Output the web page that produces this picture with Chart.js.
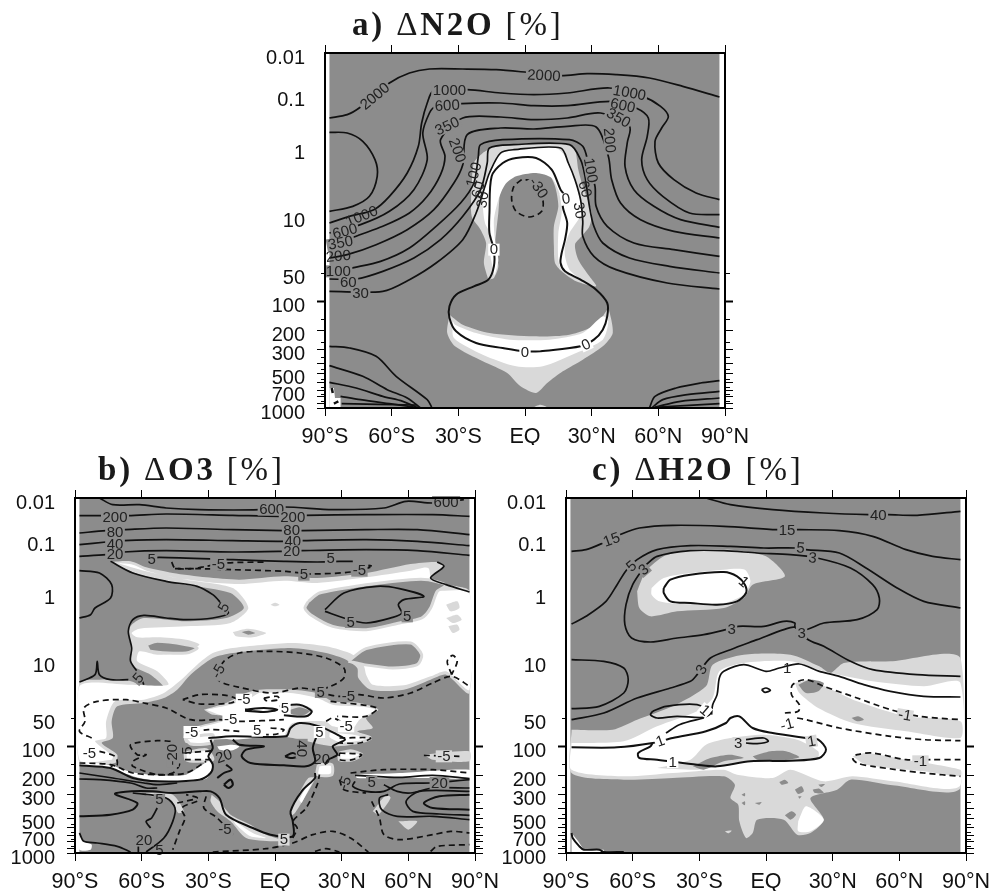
<!DOCTYPE html>
<html><head><meta charset="utf-8">
<style>html,body{margin:0;padding:0;background:#fff}canvas{position:absolute;display:block}</style>
<script src="https://cdn.jsdelivr.net/npm/chart.js@4/dist/chart.umd.min.js"></script>
</head><body>
<canvas id="pa" width="510" height="445" style="left:250px;top:0"></canvas>
<canvas id="pb" width="510" height="446" style="left:0;top:445px"></canvas>
<canvas id="pc" width="501" height="446" style="left:491px;top:445px"></canvas>
<script>
// Axis content. Pressure axis is a hybrid one, so marks are stored on a level coordinate (0 = top, 1065 = 1000 hPa).
const latTicks=[-90,-60,-30,0,30,60,90];
const latLabels=['90°S','60°S','30°S','EQ','30°N','60°N','90°N'];
const presLevels=[0,128,285,490,660,745,833,890,930,960,989,1012,1031,1052,1065];
const presLabels=['0.01','0.1','1','10','50','100','200','300','','500','','700','','','1000'];
const minorLevels=[660,797,866,911,947,977,1001,1022,1043];
const backdrop=[-88,0,87.5,0,87.5,1065,-88,1065];

// ---------- panel a : N2O ----------
const a2000=[-88,195,-80,185,-74,162,-61,90,-52,60,-43,48,-28,48,-13,50,1,58,16,68,28,62,41,65,56,75,71,100,87.5,132];
const aLoop=[-88,238,-80,240,-73,265,-67.5,320,-66.5,370,-70,430,-77.5,460,-88,475];
const a1000=[-88,510,-79,490,-68,470,-61,430,-53,360,-48,280,-46.5,210,-44,150,-41,112,-26,110,-11,120,4,125,19,120,38,105,53,130,61,160,64.5,190,61.5,225,58.5,265,60,330,67,380,77,420,87.5,440];
const a600=[-88,540,-74,515,-61,475,-50,410,-44,320,-46,240,-43,180,-40.5,162,-28.5,152,-11,150,4,158,19,158,39,145,50,165,55.5,195,55,250,52.5,320,55,380,62,430,74,480,87.5,485];
const a350=[-88,585,-77,552,-64,520,-52,480,-44,430,-38,365,-36,310,-38,260,-28,195,-11,192,4,200,19,195,34,180,47,220,46,270,45,340,49,410,58,460,70,500,87.5,523];
const a200=[-88,615,-80,605,-67,575,-53,530,-41,470,-32,390,-28,335,-26,245,-11,225,4,228,19,220,32,222,37.5,310,39,380,43,450,52,500,67,535,87.5,555];
const a100=[-88,665,-80,648,-65,625,-52,585,-40,520,-29,450,-23,390,-21,310,-20,275,-10,260,20,260,26,280,28.5,330,31.5,400,32,460,37,520,49,570,67,590,87.5,610];
const a60=[-88,678,-76,678,-64,655,-50,615,-38,560,-28,490,-20,410,-17,330,-16,285,-5,275,20,275,25,320,27,370,29,460,31,520,35,570,47,615,65,640,87.5,660];
const a30=[-88,715,-64,715,-52,680,-40,630,-28,560,-22,480,-18,400,-16,360,-11,300,-5,290,16,285,19.5,330,22.5,380,25,440,26,505,26,550,31,610,41,650,64,690,87.5,708];
const a0=[7,895,25,880,31,860,35,830,37,790,37,750,32,710,25,680,18,655,16,630,16.5,600,18,560,19,510,17,460,18,430,16,410,12,350,5,315,-4,315,-10,330,-15,370,-16,480,-16,540,-14,590,-14,640,-16.5,680,-23,700,-31,725,-34,760,-34,795,-31,835,-22,870,-10,885,0,895,7,895];
const aMinus30=[-1.5,380,-5,400,-6,440,-4,475,2,492,7.5,475,8,440,4,385,-1.5,380];
const aBL1=[-88,880,-79,885,-67,910,-58,970,-44,1040,-42,1062];
const aBL2=[-88,938,-73,970,-62,1010,-53,1035,-47,1065];
const aBL3=[-88,988,-76,1005,-64,1030,-55,1045,-48,1065];
const aBL4=[-83,1030,-74,1040,-61,1052,-50,1062];
const aBL5=[-82.5,1052,-49,1056];
const aBR1=[56,1065,58.5,1030,68,1005,79,990,87.5,983];
const aBR2=[57,1065,62,1040,73,1025,87.5,1015];
const aBR3=[58.5,1062,70,1045,87.5,1035];
const aBR4=[60,1062,87.5,1052];
const aScrib1=[-87,1005,-86.5,1020];
const aScrib2=[-86,1052,-84,1045];
const aLight1=[-16.5,680,-18.5,630,-17.5,570,-20,530,-24,490,-24,400,-23,330,-19,300,-15,285,-7,275,19,272,22.5,290,24,350,26,400,30,480,29,520,25.5,550,22.5,575,24,620,29,670,32,700,23,685,16.5,655,13.5,630,13,580,13,520,15,460,13.5,400,10,355,4,345,-5,360,-10.5,395,-12,480,-13,540,-13.5,580,-12,640,-14,675];
const aWhite1=[-13.5,670,-15.5,610,-15,550,-18,510,-19,440,-16.5,360,-12,310,-7,290,14,285,20,330,24,420,25.5,480,20,540,18,580,18,610,20,650,25,680,16.5,650,15,620,15,540,16.5,480,16,430,12,375,5,360,-4,370,-9,395,-12,440,-14,500,-13.5,560,-12,620,-13.5,665];
const aLight2=[-34,785,-35,840,-31.5,880,-19,925,-8,960,-2,1000,5,1020,10,990,17,955,26,920,35,880,39.5,840,37.5,765,36.5,775,32,815,20,845,4,850,-16,840,-28,815];
const aWhite2=[-32.5,805,-32,855,-19,905,-4,940,8,940,23,900,35,860,37.5,805,35,790,26,840,11,860,-7,860,-22,840,-31.5,815];
const aLight3=[3,1065,7,1055,10.5,1065];
const aCorner=[-88,1005,-86,1005,-85.5,1035,-83,1035,-83,1062,-88,1062];
const aTexts=[['2000',-67.5,130,-40],['2000',8.5,68,3],['1000',-34,112,0],['600',-35,158,-3],['350',-35,220,-25],['200',-30.5,292,70],['1000',47,120,10],['600',44,158,12],['350',42,195,30],['200',38,262,85],['100',29.5,352,80],['60',27,408,75,'n'],['30',24.5,472,80,'n'],['0',18.5,438,-10,'w'],['0',-14,590,0,'w'],['0',0,898,0,'w'],['0',27.5,875,-25,'w'],['-30',6,405,55],['1000',-73.5,490,-22,'n'],['600',-81,535,-15],['350',-83,570,-10],['200',-84,610,-5,'n'],['100',-84,655,0],['60',-79.5,688,0],['30',-74,722,0],['100',-23,365,-75,'n'],['60',-21,410,-75,'n'],['30',-19,440,-80,'n']];

// ---------- panel b : O3 ----------
const bLight1=[-74,192,-65,190,-58,208,-46,225,-31,238,-16,245,4,235,19,240,41,225,61,198,73,192,76,205,70,240,78,260,87.5,280,87.5,585,77,530,70,545,58,575,43,575,37.5,540,37,510,32,485,23,465,7,450,-19,465,-28,480,-38,530,-44,575,-50,600,-59,615,-71,625,-73.5,670,-73,720,-78,735,-71,770,-72,795,-88,795,-88,555,-79,545,-66,548,-59,562,-50,568,-56,530,-64.5,500,-65,440,-66,405,-64.5,380,-59,360,-40,370,-22,360,-14,330,-20,285,-40,260,-61,230];
const bWhite1=[-71,195,-64,200,-57,220,-46,238,-31,252,-16,258,4,248,19,255,41,238,61,218,69,210,71,275,87.5,285,87.5,575,77,520,70,535,58,562,44,560,41,530,40,505,35,470,23,445,7,435,-19,450,-28,465,-35,500,-43,550,-50,585,-59,605,-72,610,-76,670,-76,720,-81,730,-73,775,-73.5,785,-88,785,-88,565,-66,560,-48,560,-53,520,-62,490,-61,460,-53,470,-44,465,-34,440,-40,425,-53,418,-62,418,-64.5,405,-61,392,-40,385,-20,375,-12,330,-19,270,-40,245,-59,218];
const bGreyA=[-58,440,-53,430,-40,440,-35,450,-40,465,-56,460];
const bGreyR=[15,310,20,285,41,260,61,245,69,245,77,262,73,280,70,330,66,360,56,375,41,395,26,385,16,350,13.5,330];
const bGreyB=[33,490,41,452,61,435,66,470,64,500,53,510,40,500];
const bLightC=[-19,402,-12,392,-4,405,-10,418,-17.5,415];
const bGreyC=[-15,402,-12,398,-9,405,-12,410];
const bLightD=[-2,320,0,314,2,320,0,325];
const bLightP1=[77,320,82,310,83,330,79,340];
const bLightP2=[77,360,82,350,84,365,80,375];
const bLightP3=[78,385,82,380,83,395,80,405];
const bLight2=[-32,635,-22,615,-13,585,-7,575,8,575,19,585,26,610,38,615,46.5,635,41,660,44,690,37,700,43,720,38,735,26,745,8,720,-1,710,-11,720,-28,725,-40,735,-41,715,-37,690,-26,670,-19,655,-28,650];
const bWhite2=[-31,635,-20,620,-11,600,-7,585,7,585,19,600,26,620,37,625,45,635,38,665,35,690,26,685,22.5,670,8,675,5,702,4,715,-10,720,-19,725,-28,718,-38,730,-40.5,720,-37,695,-26,675,-19,660,-25,650];
const bGreyE=[5,635,11,623,16.5,638,13.5,655,7,652];
const bWhiteR1=[24,700,35,705,43,720,38,733,29,737,24,720];
const bWhiteR2=[29,765,34,758,39,770,35,785,29,785];
const bWhiteR3=[-40.5,765,-31,755,-28,785,-35,790,-40,785];
const bWhiteR4=[-26,745,-19.5,740,-16,745,-19,757,-25,755];
const bWhiteR5=[-40.5,720,-28,710,-29,735,-38,738];
const bWhiteBand=[-88,802,-74,812,-61,840,-46,852,-31,842,-28,800,-30,790,-40,830,-53,832,-65,822,-74,802,-88,792];
const bLightDiagR=[7,955,9,945,15,880,18,840,15,840,10.5,890,7.5,930];
const bWhiteDiagR=[12,915,17,850,16,850,11,905];
const bWhitePatch=[19.5,800,25.5,800,25.5,830,19,830];
const bLightDiagL=[-28.5,890,-25,910,-20,950,-11,980,-4,1010,5,1030,-1,1030,-13,1020,-20,970,-26,940,-29,910];
const bWhiteDiagL=[-19,965,-10,1005,-4,1020,-11,1015,-17.5,980];
const bLightS=[-58,885,-46,890,-41,940,-43.5,945,-47,905,-58,892];
const bLightT=[55.5,970,64,970,60,995];
const bLightU=[44,940,50,890,52,900,46.5,950];
const bCorner=[-88,1005,-86,1030,-82.5,1040,-83,1055,-88,1055];
const bWhiteRt=[36,830,56,825,87.5,815,87.5,840,71,840,56,840,37,840];
const bLightRt=[67,770,87.5,760,87.5,790,71,785];

const b600=[-79,0,-73,20,-61,20,-49,30,-34,35,-7,35,4,27,26,35,49,30,59,10,71,15,85,5];
const b200=[-88,53,-79,53,-66,53,-49,48,-19,52,2,55,13.5,52,41,50,71,50,87.5,55];
const b80=[-88,105,-76,98,-68,95,-49,90,-19,95,4,98,12,98,41,95,64,95,87.5,110];
const b40=[-88,140,-76,132,-68,128,-49,125,-19,128,4,130,12,128,41,125,64,130,87.5,143];
const b20=[-88,175,-76,170,-68,162,-49,158,-19,162,4,160,12,158,41,155,64,158,87.5,172];
const b5top=[-58,182,-52,178,-19,185,4,190,19,192,29,190,35,190];
const b5tip=[-74,190,-64,225,-49,250,-35,265,-28,290,-25,310,-21,345,-28,360,-40,365,-49,360,-59,352,-64,365,-66,400,-64.5,450,-65,490,-61,530,-59,560];
const b5left=[-88,218,-79,225,-73.5,260,-74,300,-81,330,-83,350,-88,360];
const b5vee=[-88,552,-81,530,-80,490,-79,530,-74,545,-66,545];
const b5rt=[73,192,76,205,70,240,77,260,87.5,282];
const b5loop=[22.5,335,31,285,46,265,56,272,67,295,58,305,55.5,320,57,345,53,358,41,375,31,360,22.5,340];
const bS1=[-13.5,635,-5,630,1,635,-5,642,-13.5,638];
const bS2=[2,625,11,620,16.5,640,14,655,4,652];
const bS3=[-30,720,-19,715,5,715,7,690,11,675,20,685,28,710,31.5,725,26,745,28,770,24,785,22.5,800];
const bS4=[-19,725,-16,740,-5,745,-13,755,-15,775,-11,795,4,802,14,805,18,790,17,750,19,710];
const bS5=[4.5,775,8,765,10.5,775,7,780,4.5,775];
const bS6=[-29,725,-28,750,-30,775,-28,800,-29,825,-34,845,-53,850,-64,840,-74,810,-88,802];
const bS7=[-88,825,-73,840,-59,855,-53,860,-44,855];
const bS8=[-22,800,-19.5,815,-23,825,-26,840];
const bS9=[-23,860,-20,845,-19,860,-21,870,-23,860];
const bLow1=[-88,843,-79,845,-65,855,-58,870,-53,870];
const bLow2=[-88,955,-74,950,-64,935,-62,915,-72,888,-64.5,880,-55,880,-46,885,-34,880,-29,880,-25,900,-22,950,-10,990,-2,1010,8,1015,8,970,7,940,12,880,18,840,18,825];
const bS10=[-64,885,-49,900,-45,930,-46,970,-50,1020,-58,1062];
const bS11=[-53,930,-55.5,960,-58,970,-56,990];
const bR2=[36,832,56,838,71,832,87.5,842];
const bR4=[36,850,35,865,41,880,49,880,56,858,70,855,79,850,87.5,845];
const bR5=[49,860,55,880,61,885,71,870,87.5,870];
const bR6=[87.5,890,74,895,67,915,71,930,87.5,935];
const bR7=[87.5,880,65,880,59,910,62,940,74,948,87.5,952];
const bR8=[87.5,965,71,955,55,955,48,935,47,900,51,890];
const bBot=[-88,1005,-86,1030,-80,1035,-71,1045,-65,1062];
const bS12=[-61.5,1045,-61.5,1065];

const bN1=[-46.5,192,-45,210,-37,212,-31,205,-22,195,-4,192];
const bN2=[-45,212,-34,212,-19,215,5,220,11,225,17,228,34,222,44,205,42,202];
const bCore=[-26,530,-23,490,-16,465,-4,460,11,465,23,480,31,510,31,540,25,565,19,575,11,570,-1,585,-16,568,-25,550,-26,530];
const bN3=[24,590,29,595,38,590,49,600,61,585,71,555,79.5,535,87.5,565];
const bLoopR=[79.5,530,77.5,490,80,472,82,490,79.5,530];
const bEll=[-41.5,605,-34,590,-22,592,-17,605,-20,615,-34,618,-41.5,605];
const bSm=[-5,600,1,595,2,605,-4,608,-5,600];
const bN4=[-82.5,720,-88,700,-85.5,670,-86,630,-80,610,-67,605,-59,615,-49,630,-38,665,-25,665,-16,670,4,665];
const bN5=[25,610,46,630,41,655,28,655];
const bN6=[23,670,26,660,31,675];
const bN8=[-41,710,-30,695,-16,700];
const bN9=[-2,690,4,695,1,708,-4,710];
const bN10=[29,720,43,720,38,735,29,735];
const bN11=[29,765,39,770,35,785,29,785,29,765];
const bN12=[-40.5,765,-28,758];
const bN12b=[-40.5,785,-28,785];
const bN13=[-88,795,-74,800,-64,825,-52,830,-40,825,-31,790];
const bN14=[-47,730,-53,728,-65,740,-62,770,-58,770,-64,790,-64,805,-53,830,-46,825,-43,800,-44,785];
const bN15=[-79,760,-72,775,-71,800,-74,805];
const bN16=[-35,910,-42,930,-40.5,960,-43,1000,-46,1055];
const bN17=[-44,915,-35,900,-40,890];
const bN18=[-28,1062,-4,1052,8,1035,17,1010,26,1000,34,1020,42,1062];
const bN19=[18,1060,23,1052,29,1062];
const bN20=[8,1020,10,990,8,970,14,930,19,860,20,830];
const bN21=[-31,895,-32,930,-26,960,-19,1010];
const bR1=[34,825,49,815,71,815,87.5,825];
const bR3=[29,845,31,875,41,885];
const bR9=[43.5,910,47,960,49,1010,56,1025,71,1010,79,1000,87.5,1005];
const bR10=[70,1060,73,1045,87.5,1040];
const bR11=[67,772,83,775];
const bTexts=[['600',-1.5,35,0],['600',77,12,0],['200',-72,58,0],['200',8,58,0],['80',-72,102,0],['80',7.5,98,0],['40',-72,138,0],['40',8,130,0],['20',-72,170,0],['20',7.5,160,0],['5',-55.5,185,0],['5',25,182,0],['-5',-25.5,198,0],['5',13,230,0],['-5',38,218,0],['5',-23,328,-60],['5',34,372,0],['5',59.5,355,0],['5',-61.5,540,-50],['-5',-25.5,520,-60],['5',20.5,582,0],['-5',33,595,0],['-5',-14,605,0,'w'],['5',4.5,630,0,'w'],['-5',-20,665,0,'w'],['-5',-37.5,702,0,'w'],['5',-8,698,0,'w'],['5',20,702,0,'w'],['-5',32,685,0,'w'],['40',12,752,90],['-20',-46,770,-90],['5',-39.5,758,-90,'n'],['20',-23,775,-20,'n'],['20',21,785,0,'n'],['-5',-83.5,765,0,'w'],['-5',76,775,0,'l'],['5',43.5,852,0],['20',74,855,0],['-5',31.5,855,-70,'n'],['5',-52,905,0],['-5',-22.5,995,0],['5',4,1025,0,'l'],['20',-59,1027,0],['5',-52,1058,0,'n']];

// ---------- panel c : H2O ----------
const cLight1=[-58,280,-54,220,-46,175,-34,155,-16,155,0,175,8.5,235,-6,260,-10,300,-19,330,-40,340,-52,355,-57,330];
const cWhite1=[-51.5,270,-46,240,-34,225,-19,215,-9.5,215,-7,250,-10,290,-19,315,-39,318,-48,310,-51.5,290];
const cLight2=[-87.5,695,-69,695,-58,665,-42,625,-27,565,-24,500,-10,470,11,470,24,505,29,525,35,495,56,490,87.5,480,87.5,870,57,862,38,845,32,875,20,900,26,965,20,1005,14,1010,8,965,-4,965,-6,1005,-9,1020,-12,970,-12.5,920,-16,900,-14,860,-19,835,-42,840,-64,845,-87.5,825];
const cWhite2=[-87.5,735,-64,730,-49,685,-31,640,-24,600,-21,520,-10,495,11,490,26,520,48,550,71,565,87.5,555,87.5,862,57,850,39,835,26,850,11,815,3,840,-13,830,-19,815,-42,825,-64,835,-87.5,815];
const cIsle1=[13,555,20,545,26.5,565,41,610,63,655,87.5,670,87.5,720,63,700,39,675,23.5,630,15,585];
const cIsle2=[39,775,45,765,63,785,87.5,815,87.5,835,71,820,45,800];
const cIsle3=[-49,810,-34,785,-27,740,-16,720,-1,710,14,725,23.5,760,23,785,11,790,-7,790,-22,805,-31,815];
const cGrey1=[-33,805,-25,780,-16,770,-10,780,-19,790,-28,815];
const cGrey2=[-6,775,2,760,9,760,15,778,6,788,-4,785];
const cGrey3=[14.5,560,20,545,26,555,23.5,580,18,585];
const cGrey4=[38.5,660,41.5,655,44,665,41,670];
const cDot1=[6,852,8.5,845,10,855,7,860];
const cDot2=[13,875,16,865,17,880,14.5,888];
const cDot3=[21,875,24,872,26,885,22,885];
const cDot4=[23.5,860,26.5,858,25,867];
const cDot5=[8.5,952,11.5,940,13.5,950,11,965];
const cDot6=[-5,915,-2,912,-3,920];
const cDot7=[-11,915,-9.5,910,-9.5,922];
const cDot8=[-11,890,-9.5,885,-9.5,895];
const cDot9=[14.5,895,16,895,15,902];
const cWhite3=[14.5,970,18,925,26,965,20,1000,14.5,1000];
const cLight3=[-18.5,1000,-15.5,998,-17,1006];
const cCorner=[-87.5,1005,-84.5,1030,-82,1055,-73,1055,-72.5,1065,-87.5,1065];
const c40=[-27,0,-16,20,3,35,26,45,46,50,55,50,68,52,87.5,40];
const c15=[-87.5,160,-81,155,-74,137,-65,108,-57,90,-42,82,-19,85,5,95,15,95,33,98,48,115,63,155,75,175,87.5,185];
const c5=[-87.5,378,-81,355,-72,310,-67,260,-63,218,-58,185,-49,155,-34,143,-16,145,-1,150,13,150,18,155,33,165,45,210,59,270,71,310,87.5,330];
const c3a=[-54,200,-60,260,-63,320,-63.5,380,-60.5,420,-52,432,-40,420,-28,410,-18,395,-12.5,385,-1,385,8,370,13,375,13,388,18,395,26,375,41,365,50,335,51,300,48,260,38,210,23,180,11,170,-4,165,-19,158,-34,158,-49,175,-54,200];
const c3lobe=[-87.5,632,-75,625,-64,585,-62,545,-64,510,-73,490,-87.5,485];
const c3b=[-87.5,665,-73,645,-58,600,-43,570,-34,550,-31,530,-25,480,-16,455,-4,425,8,395,13,388,19,425,26,445,38,490,48,515,68,530,87.5,535];
const c1a=[-46,270,-43,245,-34,230,-19,222,-13,235,-9.5,260,-9,285,-13,310,-22,320,-34,315,-43,310,-46,285,-46,270];
const c1b=[-24.5,650,-24,620,-22,590,-21,540,-19,520,-10,500,0,520,6,510,15,498,24,520,33,535,44,560,56,580,71,595,87.5,597];
const c1loop=[-51,640,-45,625,-31,620,-25,645,-28,658,-40,655,-49,660,-52,650,-51,640];
const c1c=[-87.5,748,-67,748,-51,735,-42,720,-27,700,-18,675,-16,660,-12,655,-6,690,3,705,18,720,23.5,725,27,755,24,780,11,788,-7,790,-22,805,-31,800,-49,785,-57,780,-57.5,765,-52,745,-51,735];
const c1d=[-45,705,-39,680,-28,660];
const c1dot=[-2,575,0,570,2,577,-0.5,583,-2,575];
const c3dot=[-9,725,-1,720,1,730,-4,737,-9,735];
const cBL=[-87.5,1005,-87,1020,-84,1045,-82,1055,-75,1055,-73,1062,-64,1062];
const cN1=[8.5,645,14.5,640,15,620,11.5,590,12,560,18,545,26,565,41,600,56,635,69,655,87.5,665];
const cN2=[14,660,18,665,33,690,56,715,71,725,87.5,728];
const cN3=[87.5,785,74,785,63,785,48,765,41,770,39,780,41,795,48,805,71,825,87.5,835];
const cTexts=[['40',50.5,53,0],['15',-69.5,125,-20],['15',9.5,98,0],['5',-60.5,205,-40],['3',-55,215,-40],['5',15.5,150,5],['3',21,180,5],['1',-10,252,40,'n'],['3',-15.5,395,0],['3',16,405,0],['3',-29,515,-60],['1',9.5,510,0,'n'],['1',-27.5,637,40,'w'],['1',-47.5,730,-20,'w'],['1',20.5,730,-10,'l'],['1',-42,792,0,'w'],['3',-12.5,735,0,'l'],['-1',9.5,680,-15,'w'],['-1',62.5,652,10,'l'],['-1',69.5,790,0,'l']];

const titleA=[['a) ','b'],['Δ','r'],['N2O','b'],[' [%]','r']];
const titleB=[['b) ','b'],['Δ','r'],['O3','b'],[' [%]','r']];
const titleC=[['c) ','b'],['Δ','r'],['H2O','b'],[' [%]','r']];

const GREY='#8c8c8c',LIGHT='#d9d9d9',WHITE='#ffffff',INK='#111111';
const pts=a=>{const o=[];for(let i=0;i<a.length;i+=2)o.push({x:a[i],y:a[i+1]});return o;};
function shape(a,color,ring,tension){const p=pts(a);p.push(p[0]);return{data:p,showLine:true,pointRadius:0,fill:'shape',backgroundColor:color,borderColor:ring||color,borderWidth:ring?3:0,tension:tension===undefined?0.25:tension};}
const line=(a,w)=>({data:pts(a),showLine:true,pointRadius:0,fill:false,borderColor:INK,borderWidth:w||1.7,tension:0.3});
const dash=a=>({data:pts(a),showLine:true,pointRadius:0,fill:false,borderColor:INK,borderWidth:1.7,borderDash:[6,4],tension:0.3});
const BG={g:GREY,l:LIGHT,w:WHITE};

function decor(texts,title,titleDx){return{id:'decor',
 afterDatasetsDraw(ch){const c=ch.ctx,xs=ch.scales.x,ys=ch.scales.y;c.save();
  c.font='15px "Liberation Sans"';c.textAlign='center';c.textBaseline='middle';
  for(const [t,lat,lev,rot,bg] of texts){const px=xs.getPixelForValue(lat),py=ys.getPixelForValue(lev);
   c.save();c.translate(px,py);c.rotate((rot||0)*Math.PI/180);
   const w=c.measureText(t).width+3;
   if(bg!=='n'){c.fillStyle=BG[bg||'g'];c.fillRect(-w/2,-6,w,12);}
   c.fillStyle='#222';c.fillText(t,0,0.5);c.restore();}
  c.restore();},
 afterDraw(ch){const c=ch.ctx,a=ch.chartArea,ys=ch.scales.y;c.save();
  c.strokeStyle='#000';c.lineWidth=1;
  for(const lev of minorLevels){const p=Math.round(ys.getPixelForValue(lev))+0.5;
   c.beginPath();c.moveTo(a.left-4,p);c.lineTo(a.left,p);c.moveTo(a.right,p);c.lineTo(a.right+5,p);c.stroke();}
  let x=a.left+titleDx;const y=a.top-18;c.fillStyle='#1a1a1a';c.textAlign='left';c.textBaseline='alphabetic';
  c.letterSpacing='2.8px';
  for(const [s,k] of title){c.font=(k==='b'?'bold ':'')+'33px "Liberation Serif"';c.fillText(s,x,y);x+=c.measureText(s).width;}
  c.restore();}
};}

function panel(id,datasets,texts,title,titleDx,rightW,botH){
 const n=datasets.length;datasets.forEach((d,i)=>{d.order=n-i;});
 const tickFont={family:'"Liberation Sans"',size:20};
 const yTicks=s=>{s.ticks=presLevels.map(v=>({value:v}));};
 const tickCol=c=>c.tick&&c.tick.value>=745?'#000':'rgba(0,0,0,0)';
 const tickW=c=>c.tick&&c.tick.value===745?2:1;
 const xTicks=s=>{s.ticks=latTicks.map(v=>({value:v}));};
 new Chart(document.getElementById(id),{type:'scatter',data:{datasets},plugins:[decor(texts,title,titleDx)],
  options:{responsive:false,animation:false,events:[],layout:{padding:0,autoPadding:false},
   plugins:{legend:{display:false},tooltip:{enabled:false},title:{display:false}},
   scales:{
    x:{type:'linear',min:-90,max:90,position:'bottom',afterBuildTicks:xTicks,afterFit:s=>{s.height=botH;s.paddingLeft=0;s.paddingRight=0;},
     border:{display:true,width:2,color:'#000',z:1},grid:{drawOnChartArea:false,drawTicks:true,tickLength:8,tickColor:'#000',tickWidth:1},
     ticks:{autoSkip:false,maxRotation:0,minRotation:0,padding:8,color:'#111',font:{family:tickFont.family,size:21.5},callback:v=>latLabels[latTicks.indexOf(v)]}},
    x2:{type:'linear',min:-90,max:90,position:'top',afterBuildTicks:xTicks,afterFit:s=>{s.height=53;s.paddingLeft=0;s.paddingRight=0;},
     border:{display:true,width:2,color:'#000',z:1},grid:{drawOnChartArea:false,drawTicks:true,tickLength:8,tickColor:'#000',tickWidth:1},ticks:{display:false,autoSkip:false}},
    y:{type:'linear',min:0,max:1065,reverse:true,position:'left',afterBuildTicks:yTicks,afterFit:s=>{s.width=75;s.paddingTop=0;s.paddingBottom=0;},
     border:{display:true,width:2,color:'#000',z:1},grid:{drawOnChartArea:false,drawTicks:true,tickLength:8,tickColor:tickCol,tickWidth:tickW},
     ticks:{autoSkip:false,padding:12,labelOffset:5,color:'#111',font:tickFont,callback:v=>presLabels[presLevels.indexOf(v)]}},
    y2:{type:'linear',min:0,max:1065,reverse:true,position:'right',afterBuildTicks:yTicks,afterFit:s=>{s.width=rightW;s.paddingTop=0;s.paddingBottom=0;},
     border:{display:true,width:2,color:'#000',z:1},grid:{drawOnChartArea:false,drawTicks:true,tickLength:8,tickColor:tickCol,tickWidth:tickW},ticks:{display:false,autoSkip:false}}
   }}});
}

panel('pa',[
 shape(backdrop,GREY,null,0),shape(aLight1,LIGHT),shape(aLight2,LIGHT),shape(aLight3,LIGHT),shape(aWhite1,WHITE),shape(aWhite2,WHITE),shape(aCorner,WHITE,null,0),
 line(a2000),line(aLoop),line(a1000),line(a600),line(a350),line(a200),line(a100),line(a60),line(a30),line(a0,2),dash(aMinus30),
 line(aBL1),line(aBL2),line(aBL3),line(aBL4),line(aBL5),line(aBR1),line(aBR2),line(aBR3),line(aBR4),line(aScrib1,2.5),line(aScrib2,2.5)
],aTexts,titleA,27,35,37);

panel('pb',[
 shape(backdrop,GREY,null,0),shape(bLight1,LIGHT),shape(bLight2,LIGHT),shape(bWhite1,WHITE),shape(bWhite2,WHITE),
 shape(bGreyA,GREY,LIGHT),shape(bGreyR,GREY,LIGHT),shape(bGreyB,GREY,LIGHT),shape(bLightC,LIGHT),shape(bGreyC,GREY),shape(bLightD,LIGHT),shape(bLightP1,LIGHT),shape(bLightP2,LIGHT),shape(bLightP3,LIGHT),shape(bGreyE,GREY,LIGHT),
 shape(bWhiteR1,WHITE,LIGHT),shape(bWhiteR2,WHITE,LIGHT),shape(bWhiteR3,WHITE,LIGHT),shape(bWhiteR4,WHITE),shape(bWhiteR5,WHITE,LIGHT),shape(bWhiteBand,WHITE),
 shape(bLightDiagR,LIGHT),shape(bWhiteDiagR,WHITE),shape(bWhitePatch,WHITE,LIGHT),shape(bLightDiagL,LIGHT),shape(bWhiteDiagL,WHITE),shape(bLightS,LIGHT),shape(bLightT,LIGHT),shape(bLightU,LIGHT),shape(bCorner,WHITE),shape(bWhiteRt,WHITE),shape(bLightRt,LIGHT),
 line(b600),line(b200),line(b80),line(b40),line(b20),line(b5top),line(b5tip),line(b5left),line(b5vee),line(b5rt),line(b5loop),line(bS1,2.2),line(bS2,2),line(bS3,2),line(bS4,2),line(bS5,2),line(bS6,2),line(bS7),line(bS8,2),line(bS9,2.2),line(bLow1),line(bLow2,2),line(bS10),line(bS11),line(bR2),line(bR4),line(bR5),line(bR6,2),line(bR7),line(bR8),line(bBot),line(bS12),
 dash(bN1),dash(bN2),dash(bCore),dash(bN3),dash(bLoopR),dash(bEll),dash(bSm),dash(bN4),dash(bN5),dash(bN6),dash(bN8),dash(bN9),dash(bN10),dash(bN11),dash(bN12),dash(bN12b),dash(bN13),dash(bN14),dash(bN15),dash(bN16),dash(bN17),dash(bN18),dash(bN19),dash(bN20),dash(bN21),dash(bR1),dash(bR3),dash(bR9),dash(bR10),dash(bR11)
],bTexts,titleB,23,35,38);

panel('pc',[
 shape(backdrop,GREY,null,0),shape(cLight1,LIGHT),shape(cWhite1,WHITE),shape(cLight2,LIGHT),shape(cWhite2,WHITE),shape(cIsle1,LIGHT),shape(cIsle2,LIGHT),shape(cIsle3,LIGHT),
 shape(cGrey1,GREY),shape(cGrey2,GREY),shape(cGrey3,GREY),shape(cGrey4,GREY),shape(cDot1,GREY),shape(cDot2,GREY),shape(cDot3,GREY),shape(cDot4,GREY),shape(cDot5,GREY),shape(cDot6,GREY),shape(cDot7,GREY),shape(cDot8,GREY),shape(cDot9,GREY),shape(cWhite3,WHITE),shape(cLight3,LIGHT),shape(cCorner,WHITE,null,0),
 line(c40),line(c15),line(c5),line(c3a),line(c3lobe),line(c3b),line(c1a,2),line(c1b),line(c1loop),line(c1c,2),line(c1d),line(c1dot),line(c3dot),line(cBL,2),
 dash(cN1),dash(cN2),dash(cN3)
],cTexts,titleC,26,26,38);
</script>
</body></html>
